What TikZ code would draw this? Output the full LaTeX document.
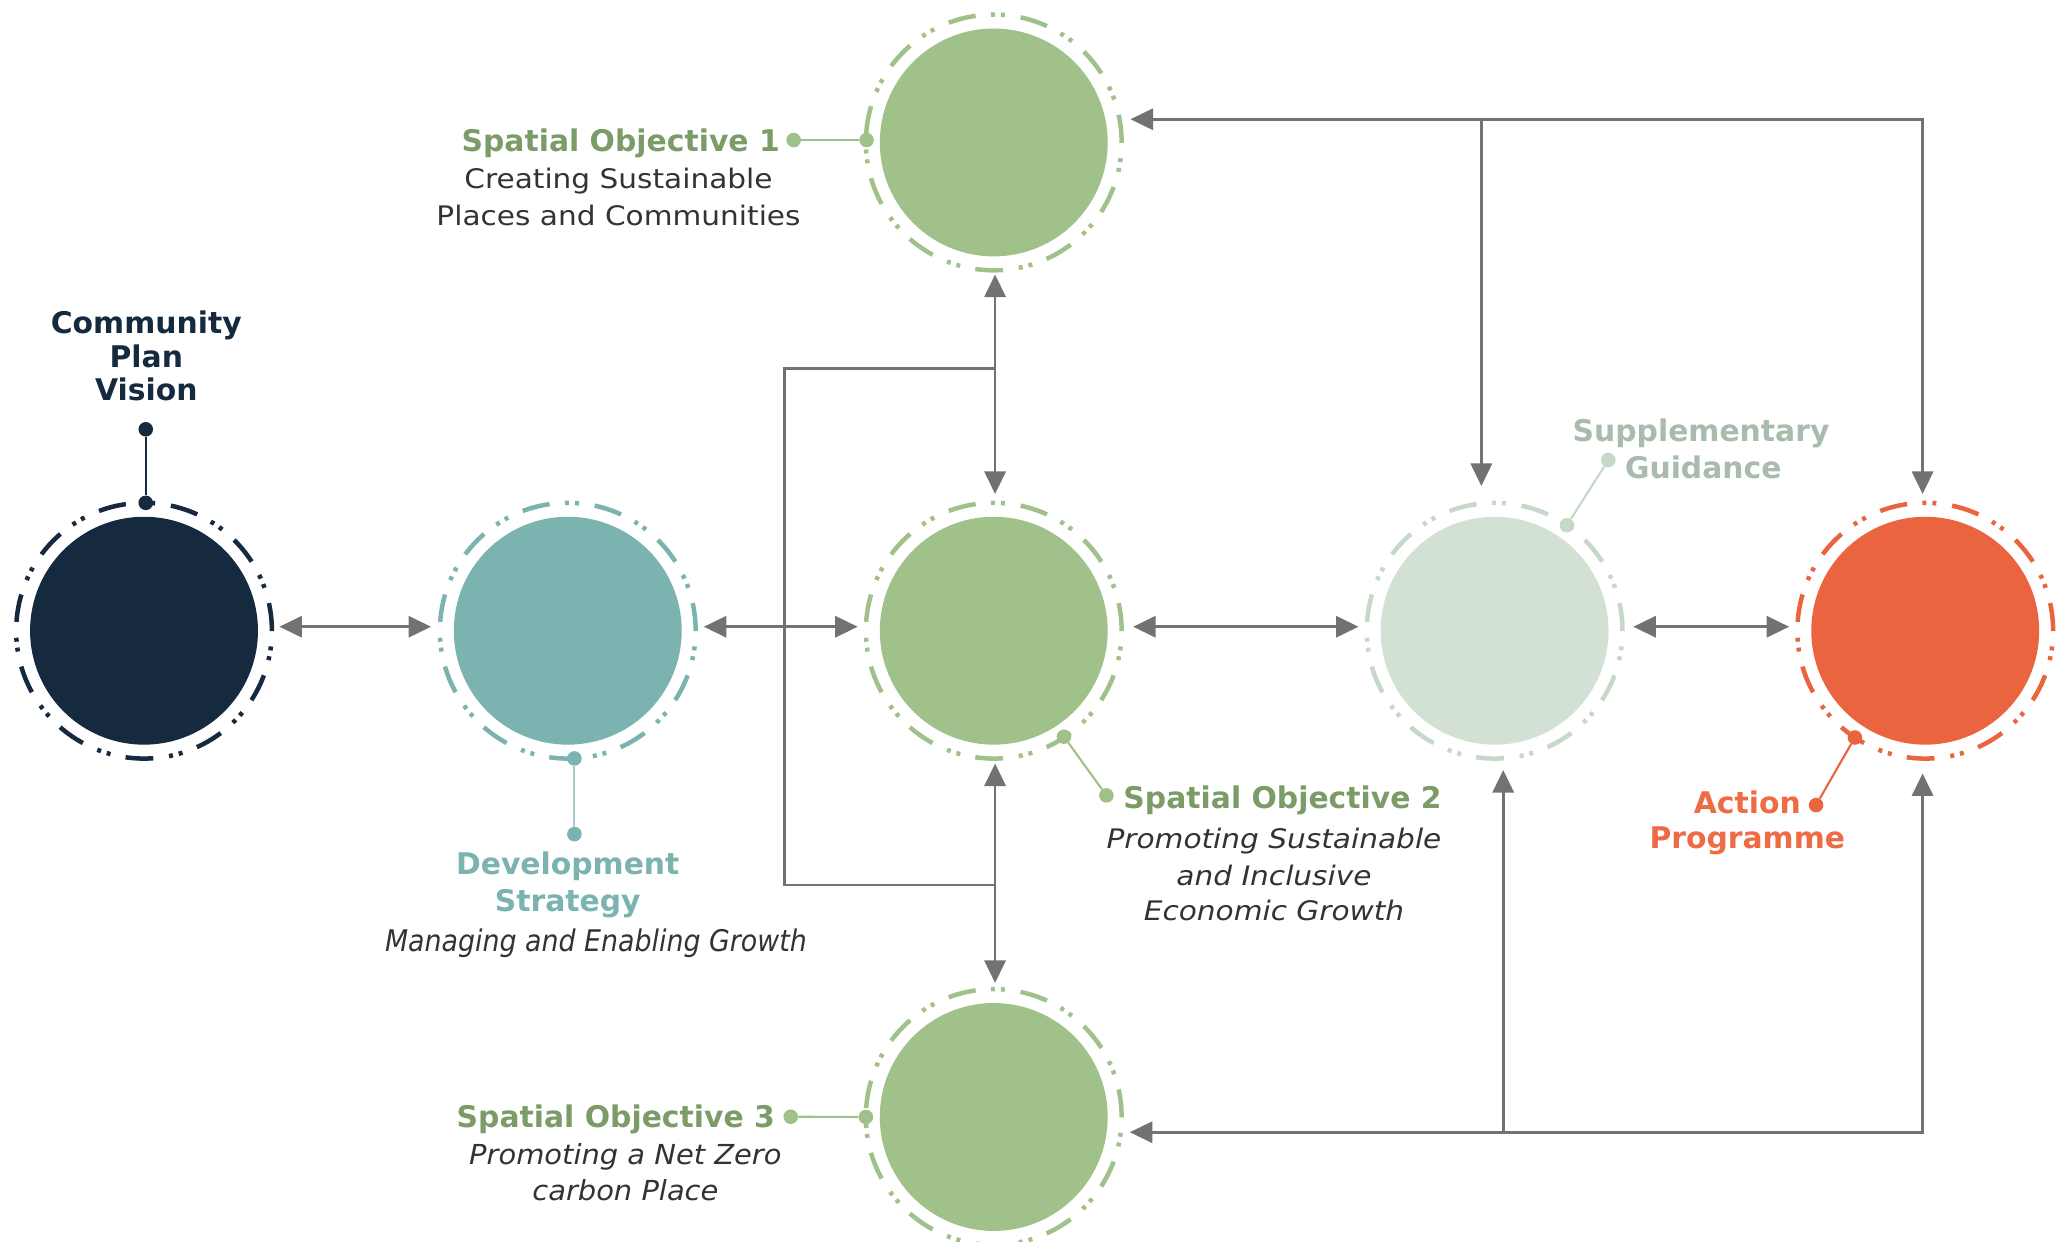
\documentclass[tikz,border=0pt]{standalone}
\usepackage{fontspec}
\setmainfont{DejaVu Sans}
\newfontfamily\wideface[FakeStretch=1.1]{DejaVu Sans}
\newfontfamily\narrowface[FakeStretch=0.9]{DejaVu Sans}
\newfontfamily\midface[FakeStretch=1.05]{DejaVu Sans}
\usetikzlibrary{arrows.meta,calc}
\definecolor{cNavy}{HTML}{15293F}
\definecolor{cTeal}{HTML}{7AB3AF}
\definecolor{cTealL}{HTML}{A5CDCA}
\definecolor{cGreen}{HTML}{A0C28A}
\definecolor{cGreenT}{HTML}{7B9B67}
\definecolor{cSupp}{HTML}{D3E1D5}
\definecolor{cSuppR}{HTML}{C6D9C9}
\definecolor{cSuppT}{HTML}{A8BBAD}
\definecolor{cOrange}{HTML}{EA643F}
\definecolor{cOrangeT}{HTML}{EE6B43}
\definecolor{cArrow}{HTML}{727272}
\definecolor{cBody}{HTML}{333333}
\newcommand\lblbf{\fontsize{22.5}{27}\selectfont\bfseries}
\newcommand\lblwide{\wideface\fontsize{20.3}{24}\selectfont}
\newcommand\lblnarrow{\narrowface\fontsize{22.5}{27}\selectfont\itshape}
\newcommand\lblmid{\midface\fontsize{20.8}{25}\selectfont\itshape}
\begin{document}
\begin{tikzpicture}[x=1pt,y=-1pt,
  disc/.style={circle, minimum size=172pt, inner sep=0pt, draw=none},
  ring/.style={line width=3.4pt, dash pattern=on 21pt off 12pt on 3pt off 4.5pt on 3pt off 11.6pt},
  conn/.style={line width=2pt, draw=cArrow},
  dbl/.style={conn, {Triangle[length=17pt,width=16pt]}-{Triangle[length=17pt,width=16pt]}},
  sgl/.style={conn, -{Triangle[length=17pt,width=16pt]}},
  lead/.style={line width=1.6pt},
  dotn/.style={circle, minimum size=11pt, inner sep=0pt, draw=none},
  lbl/.style={inner sep=0pt, anchor=base}]
\useasboundingbox (0,0) rectangle (1560,937.35);
\fill[white] (0,0) rectangle (1560,937.35);

% circles
\node[disc, fill=cNavy] (comm) at (108.7,476) {};
\node[disc, fill=cTeal] (dev) at (428.5,476) {};
\node[disc, fill=cGreen] (so2) at (750,476) {};
\node[disc, fill=cSupp] (supp) at (1128,476) {};
\node[disc, fill=cOrange] (act) at (1453,476) {};
\node[disc, fill=cGreen] (so1) at (750,107.5) {};
\node[disc, fill=cGreen] (so3) at (750,843) {};

% rings
\draw[ring, cNavy] (comm) circle[radius=96.5pt];
\draw[ring, cTeal] (dev) circle[radius=96.5pt];
\draw[ring, cGreen] (so2) circle[radius=96.5pt];
\draw[ring, cSuppR] (supp) circle[radius=96.5pt];
\draw[ring, cOrange] (act) circle[radius=96.5pt];
\draw[ring, cGreen] (so1) circle[radius=96.5pt];
\draw[ring, cGreen] (so3) circle[radius=96.5pt];

% horizontal connectors
\draw[dbl, shorten <=16pt, shorten >=17pt] ([yshift=3pt]comm.east) -- ([yshift=3pt]dev.west);
\draw[dbl, shorten <=16.5pt, shorten >=16.5pt] ([yshift=3pt]dev.east) -- ([yshift=3pt]so2.west);
\draw[dbl, shorten <=19pt, shorten >=16.5pt] ([yshift=3pt]so2.east) -- ([yshift=3pt]supp.west);
\draw[dbl, shorten <=18.5pt, shorten >=16.5pt] ([yshift=3pt]supp.east) -- ([yshift=3pt]act.west);

% vertical connectors on the central axis
\draw[dbl, shorten <=13.5pt, shorten >=17pt] ([xshift=1pt]so1.south) -- ([xshift=1pt]so2.north);
\draw[dbl, shorten <=14pt, shorten >=15pt] ([xshift=1pt]so2.south) -- ([xshift=1pt]so3.north);

% left bracket
\coordinate (brT) at (751,278);
\coordinate (brL) at (592,668);
\coordinate (brB) at (751,668);
\draw[conn] (brT) -| (brL) -- (brB);

% top frame
\coordinate (topL) at ([shift={(17,-17.5)}]so1.east);
\coordinate (actT) at ([shift={(-2,-17)}]act.north);
\coordinate (suppT) at ([shift={(-10,-23)}]supp.north);
\draw[dbl] (topL) -| (actT);
\draw[sgl] (suppT |- topL) -- (suppT);

% bottom frame
\coordinate (botL) at ([shift={(16.5,11.5)}]so3.east);
\coordinate (actB) at ([shift={(-2,21.5)}]act.south);
\coordinate (suppB) at ([shift={(6.5,19)}]supp.south);
\draw[dbl] (botL) -| (actB);
\draw[sgl] (suppB |- botL) -- (suppB);

% Community Plan Vision
\node[dotn, fill=cNavy] (commd1) at (110,324) {};
\node[dotn, fill=cNavy] (commd2) at (110,379.5) {};
\draw[lead, cNavy] (commd1) -- (commd2);
\node[lbl, text=cNavy, font=\lblbf] (commt1) at (110.4,252) {Community};
\node[lbl, text=cNavy, font=\lblbf] (commt2) at (110.4,277) {Plan};
\node[lbl, text=cNavy, font=\lblbf] (commt3) at (110.4,302) {Vision};

% Development Strategy
\node[dotn, fill=cTeal] (devd1) at (433.5,629.5) {};
\node[dotn, fill=cTeal] (devd2) at (433.5,572.4) {};
\draw[lead, cTealL] (devd1) -- (devd2);
\node[lbl, text=cTeal, font=\lblbf] (devt1) at (428.5,660) {Development};
\node[lbl, text=cTeal, font=\lblbf] (devt2) at (428.5,688) {Strategy};
\node[lbl, text=cBody, font=\lblnarrow] (devt3) at (449.7,718) {Managing and Enabling Growth};

% Spatial Objective 1
\node[dotn, fill=cGreen] (so1d1) at (599,105.7) {};
\node[dotn, fill=cGreen] (so1d2) at (654,105.7) {};
\draw[lead, cGreen] (so1d1) -- (so1d2);
\node[lbl, anchor=base east, text=cGreenT, font=\lblbf] (so1t1) at (588.7,114.5) {Spatial Objective 1};
\node[lbl, text=cBody, font=\lblwide] (so1t2) at (466.8,142) {Creating Sustainable};
\node[lbl, text=cBody, font=\lblwide] (so1t3) at (466.8,170) {Places and Communities};

% Spatial Objective 2
\node[dotn, fill=cGreen] (so2d1) at (835,600.3) {};
\node[dotn, fill=cGreen] (so2d2) at (803,556) {};
\draw[lead, cGreen] (so2d1) -- (so2d2);
\node[lbl, anchor=base west, text=cGreenT, font=\lblbf] (so2t1) at (847.7,610) {Spatial Objective 2};
\node[lbl, text=cBody, font=\lblwide\itshape] (so2t2) at (961.5,640) {Promoting Sustainable};
\node[lbl, text=cBody, font=\lblwide\itshape] (so2t3) at (961.5,668) {and Inclusive};
\node[lbl, text=cBody, font=\lblwide\itshape] (so2t4) at (961.5,694.5) {Economic Growth};

% Supplementary Guidance
\node[dotn, fill=cSuppR] (suppd1) at (1213.8,347.2) {};
\node[dotn, fill=cSuppR] (suppd2) at (1182.6,396.4) {};
\draw[lead, cSuppR] (suppd1) -- (suppd2);
\node[lbl, text=cSuppT, font=\lblbf] (suppt1) at (1283.8,333) {Supplementary};
\node[lbl, text=cSuppT, font=\lblbf] (suppt2) at (1285.5,360.8) {Guidance};

% Action Programme
\node[dotn, fill=cOrange] (actd1) at (1370.6,607.6) {};
\node[dotn, fill=cOrange] (actd2) at (1399.9,556.6) {};
\draw[lead, cOrange] (actd1) -- (actd2);
\node[lbl, text=cOrangeT, font=\lblbf] (actt1) at (1318.7,613.8) {Action};
\node[lbl, text=cOrangeT, font=\lblbf] (actt2) at (1318.7,640) {Programme};

% Spatial Objective 3
\node[dotn, fill=cGreen] (so3d1) at (596.8,842.8) {};
\node[dotn, fill=cGreen] (so3d2) at (653.5,843) {};
\draw[lead, cGreen] (so3d1) -- (so3d2);
\node[lbl, anchor=base east, text=cGreenT, font=\lblbf] (so3t1) at (585,851) {Spatial Objective 3};
\node[lbl, text=cBody, font=\lblmid] (so3t2) at (472,879) {Promoting a Net Zero};
\node[lbl, text=cBody, font=\lblmid] (so3t3) at (472,905.7) {carbon Place};
\end{tikzpicture}
\end{document}
